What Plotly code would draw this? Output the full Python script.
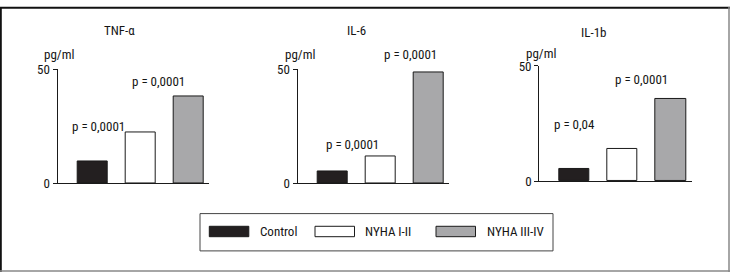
import plotly.graph_objects as go

# ---------------- data ----------------
groups = ["Control", "NYHA I-II", "NYHA III-IV"]
panels = ["TNF-α", "IL-6", "IL-1b"]
tnf_values = [9.4, 22.4, 37.9]
il6_values = [5.3, 11.8, 48.7]
il1b_values = [5.5, 13.8, 35.5]
unit_label = "pg/ml"
y_ticks = [0, 50]
# p-value labels per panel: (text, x position in category units, y value)
tnf_p = [("p = 0,0001", 0.12, 25.0), ("p = 0,0001", 1.38, 44.6)]
il6_p = [("p = 0,0001", 0.43, 16.8), ("p = 0,0001", 1.62, 56.7)]
il1b_p = [("p = 0,04", 0.0, 24.7), ("p = 0,0001", 1.39, 44.0)]

W, H = 730, 280
FONT = "Liberation Sans Narrow, Arial Narrow, Roboto Condensed, Liberation Sans, sans-serif"
TXT = "#151515"
fills = ["#231f20", "#ffffff", "#a8a8aa"]
Y_MAX = 50

def px(x):
    return x / W

def py(y):
    return 1 - y / H

# layout geometry (pixels)
x_domains = [(57.7, 209.0), (297.7, 449.0), (539.3, 691.7)]
y_domains = [(186.0, 66.0), (186.0, 66.0), (184.0, 62.3)]
title_pos = [(119, 25), (356, 25), (594, 27)]
unit_pos = [(59, 50), (300, 50), (541, 49)]

all_values = [tnf_values, il6_values, il1b_values]
all_p = [tnf_p, il6_p, il1b_p]

fig = go.Figure()
annotations = []
shapes = []

for i, (vals, plist) in enumerate(zip(all_values, all_p)):
    n = "" if i == 0 else str(i + 1)
    fig.add_trace(go.Bar(
        x=[0, 1, 2], y=vals, width=0.625,
        marker=dict(color=fills, line=dict(color="#1a1a1a", width=1)),
        xaxis="x" + n, yaxis="y" + n, showlegend=False, hoverinfo="skip",
    ))
    xd = x_domains[i]
    yd = y_domains[i]
    fig.layout["xaxis" + n] = dict(
        domain=[px(xd[0]), px(xd[1])], range=[-0.72, 2.43],
        showticklabels=False, ticks="", showgrid=False, zeroline=False,
        showline=True, linecolor="#1a1a1a", linewidth=1.3,
        anchor="y" + n, fixedrange=True,
    )
    fig.layout["yaxis" + n] = dict(
        domain=[py(yd[0]), py(yd[1])], range=[0, Y_MAX],
        tickvals=y_ticks, ticktext=[str(t) for t in y_ticks],
        ticks="outside", ticklen=4, tickwidth=1.2, tickcolor="#1a1a1a",
        tickfont=dict(family=FONT, size=13, color=TXT),
        showgrid=False, zeroline=False,
        showline=True, linecolor="#1a1a1a", linewidth=1.3,
        anchor="x" + n, fixedrange=True,
    )
    # panel title and unit
    annotations.append(dict(text=panels[i], x=px(title_pos[i][0]), y=py(title_pos[i][1]),
                            xref="paper", yref="paper", showarrow=False,
                            xanchor="center", yanchor="middle",
                            font=dict(family=FONT, size=13, color=TXT)))
    annotations.append(dict(text=unit_label, x=px(unit_pos[i][0]), y=py(unit_pos[i][1]),
                            xref="paper", yref="paper", showarrow=False,
                            xanchor="center", yanchor="middle",
                            font=dict(family=FONT, size=13, color=TXT)))
    for (t, xv, yv) in plist:
        # use the y-axis domain reference so labels above the range stay visible
        annotations.append(dict(text=t, x=xv, y=yv / Y_MAX, xref="x" + n, yref="y" + n + " domain",
                                showarrow=False, xanchor="center", yanchor="middle",
                                font=dict(family=FONT, size=13, color=TXT)))

# legend box (drawn manually to match the reference look)
shapes.append(dict(type="rect", xref="paper", yref="paper",
                   x0=px(200), x1=px(553), y0=py(257.7), y1=py(218.3),
                   line=dict(color="#444444", width=1), fillcolor="rgba(0,0,0,0)"))
sw_x = [209.3, 315.0, 436.0]
tx_x = [257.7, 363.3, 485.0]
for g, fc, sx, tx in zip(groups, fills, sw_x, tx_x):
    shapes.append(dict(type="rect", xref="paper", yref="paper",
                       x0=px(sx), x1=px(sx + 39.5), y0=py(242.7), y1=py(231.7),
                       line=dict(color="#1a1a1a", width=1), fillcolor=fc))
    annotations.append(dict(text=g, x=px(tx), y=py(237.5), xref="paper", yref="paper",
                            showarrow=False, xanchor="left", yanchor="middle",
                            font=dict(family=FONT, size=13, color=TXT)))

# outer frame
shapes.append(dict(type="line", xref="paper", yref="paper", x0=0, x1=1, y0=py(0.8), y1=py(0.8),
                   line=dict(color="#111111", width=2)))
shapes.append(dict(type="line", xref="paper", yref="paper", x0=px(0.8), x1=px(0.8), y0=0, y1=1,
                   line=dict(color="#111111", width=2)))
shapes.append(dict(type="line", xref="paper", yref="paper", x0=px(729), x1=px(729), y0=0, y1=1,
                   line=dict(color="#888888", width=1.5)))
shapes.append(dict(type="line", xref="paper", yref="paper", x0=0, x1=1, y0=py(279), y1=py(279),
                   line=dict(color="#888888", width=1.5)))

fig.update_layout(
    width=W, height=H, margin=dict(l=0, r=0, t=0, b=0),
    paper_bgcolor="white", plot_bgcolor="white",
    annotations=annotations, shapes=shapes, showlegend=False,
    bargap=0,
)
fig.write_html("out.html", config={"displayModeBar": False},
               post_script="document.body.style.margin='0';document.body.style.overflow='hidden';")
